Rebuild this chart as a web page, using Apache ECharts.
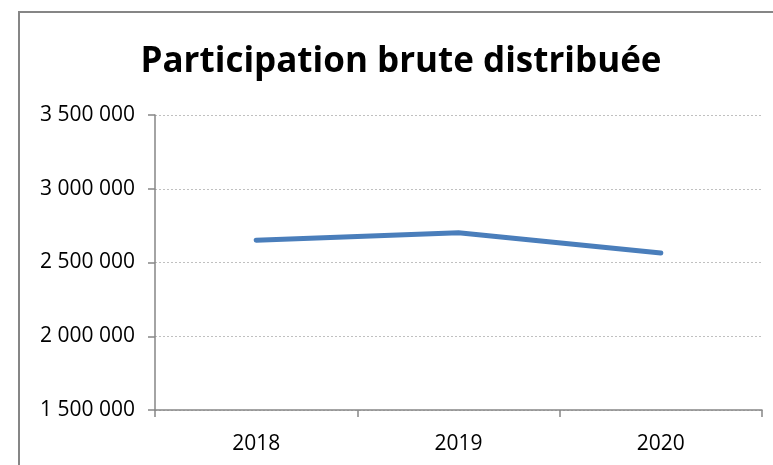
<!DOCTYPE html>
<html>
<head>
<meta charset="utf-8">
<script src="https://cdn.jsdelivr.net/npm/echarts@6/dist/echarts.min.js"></script>
<style>
html, body { margin: 0; padding: 0; background: #fff; }
#chart { width: 773px; height: 465px; }
</style>
</head>
<body>
<div id="chart"></div>
<script>
var years = ['2018', '2019', '2020'];
var participation = [2651000, 2701000, 2565000];

var myChart = echarts.init(document.getElementById('chart'));

function fmt(v) {
    return String(v).replace(/\B(?=(\d{3})+(?!\d))/g, ' ');
}

var option = {
    backgroundColor: '#fff',
    animation: false,
    title: {
        text: 'Participation brute distribuée',
        left: 396,
        textAlign: 'center',
        top: 40,
        textStyle: {
            fontFamily: 'Open Sans',
            fontWeight: 'bold',
            fontSize: 35,
            color: '#000'
        }
    },
    graphic: [
        {
            type: 'rect',
            shape: { x: 19, y: 12, width: 780, height: 470 },
            style: { fill: 'none', stroke: '#868686', lineWidth: 2 },
            silent: true
        }
    ],
    grid: {
        left: 155,
        right: 11,
        top: 115,
        bottom: 55
    },
    xAxis: {
        type: 'category',
        data: years,
        boundaryGap: true,
        axisLine: { lineStyle: { color: '#868686', width: 1.5 } },
        axisTick: { show: true, length: 7, lineStyle: { color: '#868686', width: 1.5 } },
        axisLabel: {
            margin: 24,
            fontFamily: 'Open Sans',
            fontSize: 21,
            color: '#000'
        }
    },
    yAxis: {
        type: 'value',
        min: 1500000,
        max: 3500000,
        interval: 500000,
        axisLine: { show: true, lineStyle: { color: '#868686', width: 1.5 } },
        axisTick: { show: true, length: 7, lineStyle: { color: '#868686', width: 1.5 } },
        axisLabel: {
            margin: 20,
            fontFamily: 'Open Sans',
            fontSize: 21,
            color: '#000',
            formatter: fmt
        },
        splitLine: {
            show: true,
            lineStyle: { color: '#c0c0c0', type: [2, 2], width: 1 }
        }
    },
    series: [
        {
            name: 'Participation brute distribuée',
            type: 'line',
            data: participation,
            symbol: 'none',
            lineStyle: { color: '#4a7ebb', width: 5, cap: 'round', join: 'round' }
        }
    ]
};
myChart.setOption(option);
</script>
</body>
</html>
